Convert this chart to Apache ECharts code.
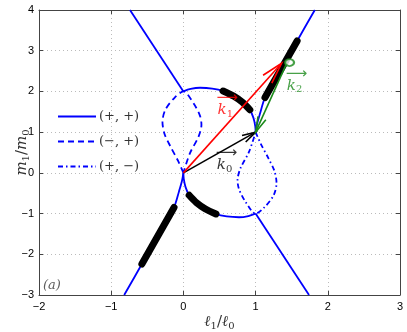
<!DOCTYPE html>
<html>
<head>
<meta charset="utf-8">
<script src="https://cdn.jsdelivr.net/npm/echarts@6/dist/echarts.min.js"></script>
<style>
html, body { margin: 0; padding: 0; background: #fff; }
#chart { width: 407px; height: 332px; }
</style>
</head>
<body>
<div id="chart"></div>
<script>
// ticks
var xTicks = [-2, -1, 0, 1, 2, 3];
var yTicks = [-3, -2, -1, 0, 1, 2, 3, 4];

// (+,+) solid branches
var solidUpperLeft = [[-0.74, 4], [0, 2]];
var solidUpperArc = [[0, 2], [0.1, 2.06], [0.23, 2.09], [0.4, 2.07], [0.55, 2.01], [0.7, 1.88], [0.82, 1.73], [0.92, 1.55], [0.97, 1.35], [0.995, 1.15], [1, 1]];
var solidUpperRight = [[1, 1], [1.02, 1.2], [1.06, 1.45], [1.13, 1.85], [1.3, 2.38], [1.575, 3.24], [1.82, 4]];
var solidLowerLeft = [[0, 0], [-0.02, -0.2], [-0.06, -0.45], [-0.13, -0.85], [-0.3, -1.38], [-0.575, -2.24], [-0.82, -3]];
var solidLowerArc = [[1, -1], [0.9, -1.06], [0.77, -1.09], [0.6, -1.07], [0.45, -1.01], [0.3, -0.88], [0.18, -0.73], [0.08, -0.55], [0.03, -0.35], [0.005, -0.15], [0, 0]];
var solidLowerRight = [[1, -1], [1.74, -3]];

// (-,+) dashed loop
var dashedLoop = [[0, 0], [-0.07, 0.28], [-0.18, 0.65], [-0.26, 0.95], [-0.29, 1.25], [-0.25, 1.55], [-0.12, 1.85], [0, 2],
  [0.14, 1.71], [0.23, 1.4], [0.25, 1.18], [0.21, 0.89], [0.09, 0.48], [0, 0]];
// (+,-) dash-dot loop
var dashDotLoop = [[1, 1], [1.07, 0.72], [1.18, 0.35], [1.26, 0.05], [1.29, -0.25], [1.25, -0.55], [1.12, -0.85], [1, -1],
  [0.86, -0.71], [0.77, -0.4], [0.75, -0.18], [0.79, 0.11], [0.91, 0.52], [1, 1]];

// thick black segments
var thickUpperArc = [[0.55, 2.01], [0.7, 1.88], [0.82, 1.73], [0.92, 1.55]];
var thickLowerArc = [[0.08, -0.55], [0.18, -0.73], [0.3, -0.88], [0.45, -1.01]];
var thickUpperRight = [[1.13, 1.85], [1.575, 3.24]];
var thickLowerLeft = [[-0.13, -0.85], [-0.575, -2.24]];

// vectors [x0, y0, x1, y1]
var vecK0 = [[0, 0, 1, 1]];
var vecK1 = [[0, 0, 1.36, 2.69]];
var vecK2 = [[1.43, 2.69, 1, 1]];
var k2Circle = [[1.47, 2.71]];

// labels
var vecLabels = [
  { pos: [0.57, 0.28], idx: '0', color: '#000' },
  { pos: [0.58, 1.63], idx: '1', color: '#ff0000' },
  { pos: [1.54, 2.24], idx: '2', color: '#1a8a1a' }
];
var panelLabel = [[-1.82, -2.78]];

var blue = '#0000ff';

function arrow(color, headLen) {
  return function (params, api) {
    var p0 = api.coord([api.value(0), api.value(1)]);
    var p1 = api.coord([api.value(2), api.value(3)]);
    var ang = Math.atan2(p0[1] - p1[1], p0[0] - p1[0]);
    var a = 0.27;
    var b1 = [p1[0] + headLen * Math.cos(ang + a), p1[1] + headLen * Math.sin(ang + a)];
    var b2 = [p1[0] + headLen * Math.cos(ang - a), p1[1] + headLen * Math.sin(ang - a)];
    return {
      type: 'group',
      children: [
        { type: 'line', shape: { x1: p0[0], y1: p0[1], x2: p1[0], y2: p1[1] }, style: { stroke: color, lineWidth: 1.6 } },
        { type: 'polyline', shape: { points: [b1, p1, b2] }, style: { stroke: color, lineWidth: 1.6, fill: null } }
      ]
    };
  };
}

function curve(name, data, type, smooth) {
  return {
    name: name, type: 'line', data: data, symbol: 'none', smooth: smooth,
    lineStyle: { color: blue, width: 1.8, type: type }, itemStyle: { color: blue }, z: 3,
    silent: true, animation: false
  };
}
function thick(data) {
  return {
    type: 'line', data: data, symbol: 'none', smooth: 0.3,
    lineStyle: { color: '#000', width: 7, cap: 'round' }, z: 4, animation: false
  };
}
function vector(data, color, headLen) {
  return {
    type: 'custom', data: data, renderItem: arrow(color, headLen),
    encode: { x: [0, 2], y: [1, 3] }, z: 6, animation: false
  };
}

var minusFmt = function (v) { return String(v).replace('-', '\u2212'); };
var nameRich = {
  i: { fontFamily: 'DejaVu Serif', fontStyle: 'italic', fontSize: 15, color: '#333' },
  s: { fontFamily: 'DejaVu Serif', fontSize: 10, color: '#333', padding: [8, 0, 0, 0] },
  n: { fontFamily: 'DejaVu Serif', fontSize: 15, color: '#333' }
};
var boxTick = { show: true, inside: true, length: 4, lineStyle: { color: '#444' } };

var chart = echarts.init(document.getElementById('chart'));
chart.setOption({
  animation: false,
  grid: { left: 39, right: 7, top: 10, bottom: 37, containLabel: false, outerBoundsMode: 'none' },
  legend: {
    left: 57, top: 110, orient: 'vertical', padding: 0,
    itemWidth: 38, itemHeight: 12, itemGap: 12,
    data: ['(+, +)', '(\u2212, +)', '(+, \u2212)'],
    itemStyle: { opacity: 0, borderWidth: 0 },
    textStyle: { fontFamily: 'DejaVu Serif', fontSize: 13, color: '#333', padding: [0, 0, 0, -2] },
    selectedMode: false
  },
  xAxis: [{
    type: 'value', min: xTicks[0], max: xTicks[xTicks.length - 1], interval: 1,
    name: '{i|\u2113}{s|1}{n|/}{i|\u2113}{s|0}', nameLocation: 'middle', nameGap: 18, nameMoveOverlap: false,
    nameTextStyle: { rich: nameRich },
    axisLine: { onZero: false, lineStyle: { color: '#444' } },
    axisTick: boxTick,
    axisLabel: { color: '#000', fontFamily: 'Liberation Sans', fontSize: 11, margin: 6, formatter: minusFmt },
    splitLine: { show: true, lineStyle: { color: '#bbb', type: [1, 3] } }
  }, {
    type: 'value', position: 'top', min: -2, max: 3, interval: 1,
    axisLine: { show: true, onZero: false, lineStyle: { color: '#444' } },
    axisTick: boxTick,
    axisLabel: { show: false }, splitLine: { show: false }
  }],
  yAxis: [{
    type: 'value', min: yTicks[0], max: yTicks[yTicks.length - 1], interval: 1,
    name: '{i|m}{s|1}{n|/}{i|m}{s|0}', nameLocation: 'middle', nameGap: 8, nameRotate: 90, nameMoveOverlap: false,
    nameTextStyle: { rich: nameRich },
    axisLine: { show: true, onZero: false, lineStyle: { color: '#444' } },
    axisTick: boxTick,
    axisLabel: { color: '#000', fontFamily: 'Liberation Sans', fontSize: 11, margin: 5, formatter: minusFmt },
    splitLine: { show: true, lineStyle: { color: '#bbb', type: [1, 3] } }
  }, {
    type: 'value', position: 'right', min: -3, max: 4, interval: 1,
    axisLine: { show: true, onZero: false, lineStyle: { color: '#444' } },
    axisTick: boxTick,
    axisLabel: { show: false }, splitLine: { show: false }
  }],
  series: [
    curve('(+, +)', solidUpperLeft, 'solid', false),
    curve('(+, +)', solidUpperArc, 'solid', 0.3),
    curve('(+, +)', solidUpperRight, 'solid', 0.3),
    curve('(+, +)', solidLowerLeft, 'solid', 0.3),
    curve('(+, +)', solidLowerArc, 'solid', 0.3),
    curve('(+, +)', solidLowerRight, 'solid', false),
    curve('(\u2212, +)', dashedLoop, [6, 4], 0.3),
    curve('(+, \u2212)', dashDotLoop, [5, 3, 1.5, 3], 0.3),
    thick(thickUpperArc),
    thick(thickLowerArc),
    thick(thickUpperRight),
    thick(thickLowerLeft),
    vector(vecK0, '#000', 14),
    vector(vecK1, '#ff0000', 22),
    vector(vecK2, '#1a8a1a', 16),
    {
      type: 'scatter', data: k2Circle, symbol: 'emptyCircle', symbolSize: [9, 7],
      itemStyle: { color: '#1a8a1a', borderColor: '#1a8a1a', borderWidth: 1.5 }, z: 7
    },
    {
      type: 'scatter', symbolSize: 0, z: 8,
      data: vecLabels.map(function (d) {
        return {
          value: d.pos,
          label: {
            show: true, position: 'inside',
            formatter: '{a|\u27F6}\n{k|k}{s|' + d.idx + '}',
            rich: {
              a: { fontFamily: 'DejaVu Sans', fontSize: 15, color: d.color, lineHeight: 8, padding: [0, 0, 0, 4] },
              k: { fontFamily: 'DejaVu Serif', fontStyle: 'italic', fontSize: 15, color: d.color, lineHeight: 16 },
              s: { fontFamily: 'DejaVu Serif', fontSize: 10, color: d.color, padding: [7, 0, 0, 0], lineHeight: 16 }
            }
          }
        };
      })
    },
    {
      type: 'scatter', data: panelLabel, symbolSize: 0, z: 8,
      label: {
        show: true, position: 'inside', formatter: '(a)',
        fontFamily: 'DejaVu Serif', fontStyle: 'italic', fontSize: 13, color: '#333'
      }
    }
  ]
});
</script>
</body>
</html>
